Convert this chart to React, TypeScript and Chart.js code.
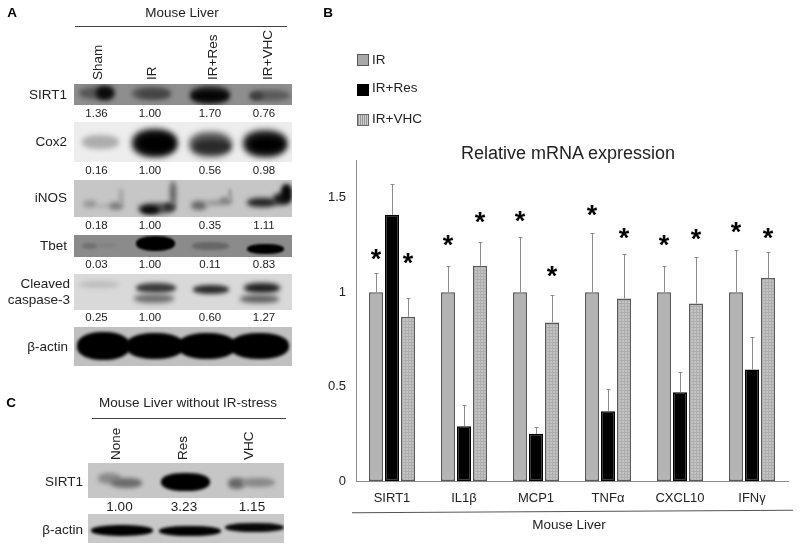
import React, { useEffect, useRef } from "react";
import { Chart, registerables } from "chart.js";

Chart.register(...registerables);

// ---- Panel B data ----
const categories = ["SIRT1", "IL1β", "MCP1", "TNFα", "CXCL10", "IFNγ"];
const seriesNames = ["IR", "IR+Res", "IR+VHC"];
const irValues = [1, 1, 1, 1, 1, 1];
const resValues = [1.41, 0.29, 0.25, 0.37, 0.47, 0.59];
const vhcValues = [0.87, 1.14, 0.84, 0.967, 0.94, 1.075];
const irErrorTops = [1.1, 1.14, 1.29, 1.316, 1.14, 1.224];
const resErrorTops = [1.573, 0.404, 0.286, 0.489, 0.577, 0.762];
const vhcErrorTops = [0.968, 1.267, 0.983, 1.2, 1.184, 1.214];
const irStars = [1.2, 1.275, 1.4, 1.43, 1.275, 1.34];
const vhcStars = [1.18, 1.398, 1.11, 1.31, 1.304, 1.31];
const yTicks = [0, 0.5, 1, 1.5];

// ---- Panels A and C data ----
const groupsA = ["Sham", "IR", "IR+Res", "IR+VHC"];
const groupsC = ["None", "Res", "VHC"];
const sirt1A = ["1.36", "1.00", "1.70", "0.76"];
const cox2A = ["0.16", "1.00", "0.56", "0.98"];
const inosA = ["0.18", "1.00", "0.35", "1.11"];
const tbetA = ["0.03", "1.00", "0.11", "0.83"];
const caspaseA = ["0.25", "1.00", "0.60", "1.27"];
const sirt1C = ["1.00", "3.23", "1.15"];

const FONT = '"Liberation Sans", Arial, sans-serif';
const TEXT = "#222";

// Blot band: [left, top, right, bottom, colour, blur] in page pixels
type Band = [number, number, number, number, string, number];

const panels: { x0: number; x1: number; y0: number; y1: number; bg: string; bands: Band[] }[] = [
  // SIRT1 A
  { x0: 74, x1: 292, y0: 84, y1: 105, bg: "#8e8e8e", bands: [
    [79, 87, 114, 99, "#555", 2.4], [96, 86, 114, 100, "#0a0a0a", 2.4],
    [132, 87, 171, 100, "#555", 2.4], [139, 90, 169, 98, "#444", 2],
    [190, 86, 230, 104, "#262626", 2.4], [192, 91, 228, 101, "#050505", 2],
    [250, 90, 290, 101, "#5a5a5a", 2.4], [250, 92, 263, 100, "#3c3c3c", 2],
  ] },
  // Cox2
  { x0: 74, x1: 292, y0: 122, y1: 162, bg: "#ededed", bands: [
    [82, 135, 119, 149, "#adadad", 2.4],
    [132, 129, 177, 157, "#1a1a1a", 3], [138, 134, 175, 153, "#000", 3],
    [189, 132, 232, 157, "#555", 3], [194, 140, 230, 153, "#2a2a2a", 2.5],
    [243, 130, 287, 157, "#2a2a2a", 3], [248, 136, 285, 153, "#000", 3],
  ] },
  // iNOS
  { x0: 74, x1: 292, y0: 180, y1: 217, bg: "#c6c6c6", bands: [
    [83, 200, 97, 208, "#9a9a9a", 2.2], [96, 204, 111, 208, "#aeaeae", 2], [109, 202, 123, 210, "#808080", 2.2], [119, 188, 123, 206, "#9e9e9e", 2],
    [138, 203, 175, 214, "#4c4c4c", 2.4], [141, 206, 159, 214, "#0a0a0a", 2], [164, 203, 175, 210, "#2c2c2c", 2], [170, 181, 176, 207, "#5a5a5a", 2.4],
    [191, 201, 207, 210, "#666", 2.4], [205, 200, 223, 206, "#9c9c9c", 2], [219, 197, 232, 205, "#858585", 2], [228, 188, 232, 201, "#a0a0a0", 1.6],
    [247, 198, 277, 207, "#222", 2.4], [273, 193, 291, 205, "#1a1a1a", 2.4], [281, 184, 292, 201, "#060606", 2],
  ] },
  // Tbet
  { x0: 74, x1: 292, y0: 235, y1: 257, bg: "#8b8b8b", bands: [
    [82, 243, 97, 249, "#707070", 1.6], [97, 244, 117, 247, "#7e7e7e", 1.6],
    [136, 236, 175, 251, "#000", 1.3],
    [192, 242, 229, 250, "#666", 1.8],
    [247, 244, 284, 254, "#000", 1.3],
  ] },
  // Cleaved caspase-3
  { x0: 74, x1: 292, y0: 274, y1: 310, bg: "#d9d9d9", bands: [
    [79, 281, 119, 288, "#bdbdbd", 2.2],
    [136, 283, 176, 293, "#3c3c3c", 2.2], [134, 294, 174, 303, "#6e6e6e", 2.4],
    [193, 285, 229, 294, "#2c2c2c", 2.2],
    [244, 283, 280, 293, "#1e1e1e", 2.4], [240, 295, 279, 303, "#5e5e5e", 2.4],
  ] },
  // beta-actin A
  { x0: 74, x1: 292, y0: 327, y1: 366, bg: "#c0c0c0", bands: [
    [77, 332, 130, 360, "#000", 1.4], [126, 333, 184, 359, "#000", 1.4],
    [178, 333, 236, 359, "#000", 1.4], [230, 333, 289, 359, "#000", 1.4],
  ] },
  // SIRT1 C
  { x0: 88, x1: 284, y0: 463, y1: 498, bg: "#c6c6c6", bands: [
    [98, 473, 121, 484, "#8a8a8a", 2.2], [111, 478, 142, 488, "#6c6c6c", 2.2],
    [161, 473, 210, 491, "#000", 1.8],
    [228, 478, 245, 489, "#666", 2.2], [241, 478, 275, 487, "#888", 2.2],
  ] },
  // beta-actin C
  { x0: 88, x1: 284, y0: 514, y1: 543, bg: "#c8c8c8", bands: [
    [91, 525, 153, 536, "#000", 1.6], [159, 526, 221, 536, "#000", 1.6],
    [225, 523, 284, 532, "#080808", 1.6],
  ] },
];

type Label = [string, number, number, string, number?, string?];
// text, x, y (middle), align, size, weight
const labels: Label[] = [
  ["A", 12, 13, "center", 13.5, "bold"],
  ["B", 328, 13, "center", 13.5, "bold"],
  ["C", 11, 403, "center", 13.5, "bold"],
  ["Mouse Liver", 182, 13, "center"],
  ["Mouse Liver without IR-stress", 188, 403, "center"],
  ["Mouse Liver", 569, 525, "center"],
  ["Relative mRNA expression", 568, 153, "center", 18],
  ["SIRT1", 67, 95, "right"],
  ["Cox2", 67, 142, "right"],
  ["iNOS", 67, 198, "right"],
  ["Tbet", 67, 246, "right"],
  ["Cleaved", 70, 284, "right"],
  ["caspase-3", 70, 300, "right"],
  ["β-actin", 68, 347, "right"],
  ["SIRT1", 83, 482, "right"],
  ["β-actin", 83, 530, "right"],
];

const colsA = [96.5, 150, 210, 264];
const rowsA: [string[], number][] = [[sirt1A, 114], [cox2A, 171], [inosA, 226], [tbetA, 265], [caspaseA, 318]];
const groupPosA = [98, 152, 213, 268];
const colsC = [119.5, 184, 252];
const groupPosC = [116, 183, 249];

function makePattern(ctx: CanvasRenderingContext2D) {
  const c = document.createElement("canvas");
  c.width = 3;
  c.height = 3;
  const p = c.getContext("2d")!;
  p.fillStyle = "#c4c4c4";
  p.fillRect(0, 0, 3, 3);
  p.fillStyle = "#adadad";
  p.fillRect(0, 0, 1, 3);
  p.fillRect(0, 0, 3, 1);
  return ctx.createPattern(c, "repeat")!;
}

const extras = {
  id: "errorsAndStars",
  afterDatasetsDraw(chart: any) {
    const { ctx, scales } = chart;
    const tops = [irErrorTops, resErrorTops, vhcErrorTops];
    ctx.save();
    ctx.strokeStyle = "#8c8c8c";
    ctx.lineWidth = 1;
    tops.forEach((arr, d) => {
      const meta = chart.getDatasetMeta(d);
      arr.forEach((v, i) => {
        const x = Math.round(meta.data[i].x) + 0.5;
        const yTop = Math.round(scales.y.getPixelForValue(v)) + 0.5;
        const yBase = scales.y.getPixelForValue(chart.data.datasets[d].data[i]);
        ctx.beginPath();
        ctx.moveTo(x, yBase);
        ctx.lineTo(x, yTop);
        ctx.moveTo(x - 2, yTop);
        ctx.lineTo(x + 2, yTop);
        ctx.stroke();
      });
    });
    ctx.fillStyle = "#000";
    ctx.font = `bold 27px ${FONT}`;
    ctx.textAlign = "center";
    ctx.textBaseline = "alphabetic";
    const m = ctx.measureText("*");
    const off = (m.actualBoundingBoxAscent - m.actualBoundingBoxDescent) / 2;
    [[irStars, 0], [vhcStars, 2]].forEach(([arr, d]: any) => {
      const meta = chart.getDatasetMeta(d);
      arr.forEach((v: number, i: number) => {
        ctx.fillText("*", meta.data[i].x, scales.y.getPixelForValue(v) + off);
      });
    });
    ctx.restore();
  },
};

export default function App() {
  const ref = useRef<HTMLCanvasElement>(null);
  useEffect(() => {
    document.body.style.margin = "0";
    const ctx = ref.current!.getContext("2d")!;
    const common = { categoryPercentage: 48 / 72, barPercentage: 14 / 16, borderWidth: 1.5, borderColor: "#5a5a5a", borderSkipped: false };
    const chart = new Chart(ctx, {
      type: "bar",
      plugins: [extras],
      data: {
        labels: categories,
        datasets: [
          { label: seriesNames[0], data: irValues, backgroundColor: "#b4b4b4", ...common },
          { label: seriesNames[1], data: resValues, backgroundColor: "#000", ...common, borderColor: "#000" },
          { label: seriesNames[2], data: vhcValues, backgroundColor: makePattern(ctx), ...common },
        ],
      },
      options: {
        animation: false,
        responsive: false,
        layout: { padding: { left: 324, right: 12, top: 160, bottom: 0 } },
        plugins: {
          legend: { display: false },
          tooltip: { enabled: false },
        },
        scales: {
          x: {
            grid: { display: false, drawTicks: false },
            border: { color: "#8c8c8c", width: 1 },
            ticks: { color: TEXT, font: { family: FONT, size: 13 }, padding: 10, maxRotation: 0 },
            afterFit: (s: any) => { s.height = 69; },
          },
          y: {
            min: 0,
            max: 1.7,
            grid: { display: false, tickLength: 3, drawOnChartArea: false, color: "#8c8c8c" },
            border: { color: "#8c8c8c", width: 1 },
            ticks: {
              color: TEXT,
              font: { family: FONT, size: 13 },
              padding: 7,
              stepSize: 0.5,
              callback: (v: any) => (yTicks.includes(Number(v)) ? String(v) : ""),
            },
            afterFit: (s: any) => { s.width = 32; },
          },
        },
      },
    } as any);
    return () => chart.destroy();
  }, []);

  const abs: React.CSSProperties = { position: "absolute" };
  const text = (t: string, x: number, y: number, align: string, size = 13.5, weight = "normal", key?: string) => {
    const tx = align === "center" ? "-50%" : align === "right" ? "-100%" : "0";
    return (
      <div key={key ?? `${t}${x}${y}`} style={{ ...abs, left: x, top: y, transform: `translate(${tx},-50%)`, fontSize: size, fontWeight: weight, whiteSpace: "nowrap", color: weight === "bold" ? "#000" : TEXT, lineHeight: 1 }}>{t}</div>
    );
  };
  const vertical = (t: string, x: number, bottom: number) => (
    <div key={`v${t}`} style={{ ...abs, left: x, top: bottom, transform: "rotate(-90deg) translateY(-50%)", transformOrigin: "0 0", fontSize: 13.5, whiteSpace: "nowrap", color: TEXT, lineHeight: 1 }}>{t}</div>
  );
  const legendSwatch = [
    { background: "#a8a8a8", border: "1px solid #555" },
    { background: "#000", border: "1px solid #000" },
    { background: "repeating-linear-gradient(90deg,#999 0 1px,#ccc 1px 2px)", border: "1px solid #666" },
  ];
  const legendY = [60, 90, 120];
  const legendTextY = [60, 88, 119];

  return (
    <div style={{ position: "relative", width: 800, height: 550, fontFamily: FONT, background: "#fff", overflow: "hidden" }}>
      {panels.map((p, i) => (
        <div key={i} style={{ ...abs, left: p.x0, top: p.y0, width: p.x1 - p.x0, height: p.y1 - p.y0, background: p.bg, overflow: "hidden" }}>
          {p.bands.map((b, j) => (
            <div key={j} style={{ ...abs, left: b[0] - p.x0, top: b[1] - p.y0, width: b[2] - b[0], height: b[3] - b[1], background: b[4], borderRadius: "45%", filter: `blur(${b[5]}px)` }} />
          ))}
        </div>
      ))}
      <canvas ref={ref} width={800} height={550} style={{ ...abs, left: 0, top: 0, width: 800, height: 550, background: "transparent", pointerEvents: "none" }} />
      {labels.map((l) => text(l[0], l[1], l[2], l[3], l[4], l[5]))}
      {groupsA.map((g, i) => vertical(g, groupPosA[i], 80))}
      {groupsC.map((g, i) => vertical(g, groupPosC[i], 460))}
      {rowsA.map(([vals, y]) => vals.map((v, i) => text(v, colsA[i], y, "center", 11.5, "normal", `${y}-${i}`)))}
      {sirt1C.map((v, i) => text(v, colsC[i], 507, "center", 13.5, "normal", `c-${i}`))}
      {seriesNames.map((n, i) => (
        <React.Fragment key={n}>
          <div style={{ ...abs, left: 357, top: legendY[i] - 6, width: 10, height: 10, ...legendSwatch[i] }} />
          {text(n, 372, legendTextY[i], "left", 13.5, "normal", `lg${i}`)}
        </React.Fragment>
      ))}
      <div style={{ ...abs, left: 75, top: 25.5, width: 212, height: 1, background: "#444" }} />
      <div style={{ ...abs, left: 92, top: 417.5, width: 194, height: 1, background: "#444" }} />
      <div style={{ ...abs, left: 352, top: 511, width: 441, height: 1, background: "#555", transform: "rotate(-0.35deg)" }} />
    </div>
  );
}
